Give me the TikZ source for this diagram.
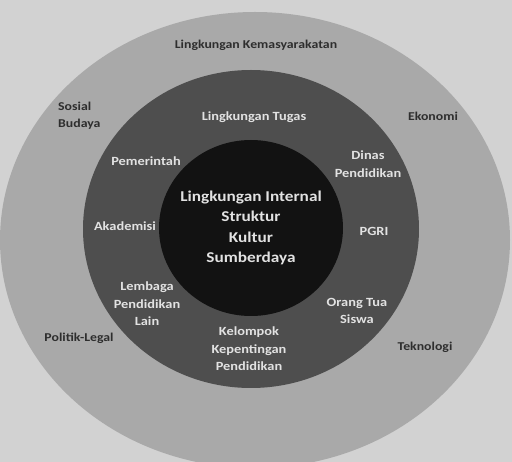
\documentclass[tikz,border=0pt]{standalone}
\usepackage{fontspec}
\setmainfont{Carlito}[FakeStretch=1.15]
\definecolor{bgc}{HTML}{D2D2D2}
\definecolor{outerc}{HTML}{A9A9A9}
\definecolor{midc}{HTML}{4E4E4E}
\definecolor{innerc}{HTML}{121212}
\definecolor{darktxt}{HTML}{2E2E2E}
\definecolor{lighttxt}{HTML}{E2E2E2}
\begin{document}
\begin{tikzpicture}[x=1pt,y=-1pt,
  outerlbl/.style={font=\bfseries\fontsize{12}{17}\selectfont, text=darktxt, align=center, inner sep=0pt},
  midlbl/.style={font=\bfseries\fontsize{12.5}{17.5}\selectfont, text=lighttxt, align=center, inner sep=0pt},
  corelbl/.style={font=\bfseries\fontsize{15}{20.5}\selectfont, text=lighttxt, align=center, inner sep=0pt}]
\fill[bgc] (0,0) rectangle (512,462);
\useasboundingbox (0,0) rectangle (512,462);
\fill[outerc] (255,240) ellipse [x radius=255, y radius=228];
\fill[midc] (251,229) ellipse [x radius=168, y radius=159];
\fill[innerc] (251,228) ellipse [x radius=92, y radius=88];
% outer labels
\node[outerlbl] (kemas) at (256,45) {Lingkungan Kemasyarakatan};
\node[outerlbl, align=left, anchor=west] (sosial) at (58,116) {Sosial\\Budaya};
\node[outerlbl] (ekonomi) at (433,116) {Ekonomi};
\node[outerlbl] (politik) at (79,338) {Politik-Legal};
\node[outerlbl] (teknologi) at (425,347) {Teknologi};
% middle labels
\node[midlbl] (tugas) at (254,117) {Lingkungan Tugas};
\node[midlbl] (pemerintah) at (146,161) {Pemerintah};
\node[midlbl] (dinas) at (368,164) {Dinas\\Pendidikan};
\node[midlbl] (akademisi) at (125,226) {Akademisi};
\node[midlbl] (pgri) at (374,231) {PGRI};
\node[midlbl] (lembaga) at (147,304) {Lembaga\\Pendidikan\\Lain};
\node[midlbl] (orangtua) at (357,311) {Orang Tua\\Siswa};
\node[midlbl] (kelompok) at (249,349) {Kelompok\\Kepentingan\\Pendidikan};
% core
\node[corelbl] (core) at (251,228) {Lingkungan Internal\\Struktur\\Kultur\\Sumberdaya};
\end{tikzpicture}
\end{document}
